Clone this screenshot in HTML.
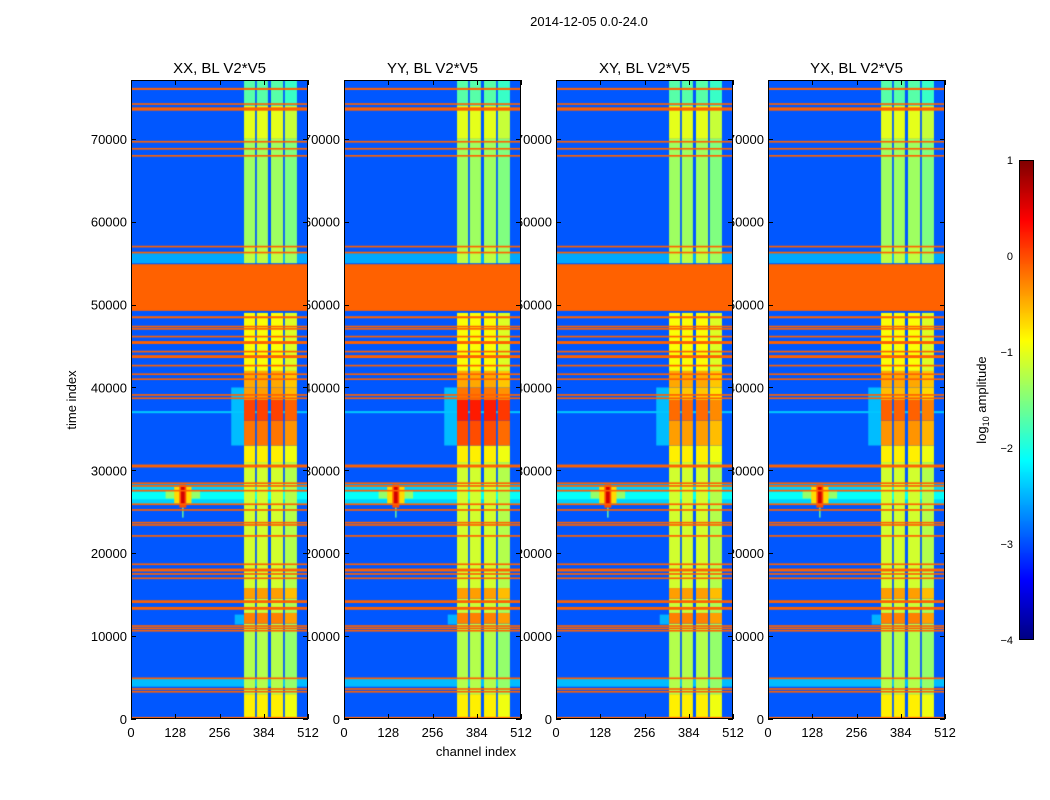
<!DOCTYPE html>
<html><head><meta charset="utf-8">
<style>
body{margin:0;background:#fff;width:1050px;height:800px;overflow:hidden;position:relative;font-family:"Liberation Sans",sans-serif}
svg{position:absolute;left:0;top:0}
canvas{position:absolute}
</style></head><body>
<svg id="txt" width="1050" height="800"></svg>
<canvas id="cb" width="15" height="480" style="left:1019px;top:160px"></canvas>
<svg id="frameLayer" width="1050" height="800"></svg>
<script>
// ---- data ----
const panelTitles = ["XX, BL V2*V5","YY, BL V2*V5","XY, BL V2*V5","YX, BL V2*V5"];
const xTicks = [0,128,256,384,512];
const yTicks = [0,10000,20000,30000,40000,50000,60000,70000];
const cbTicks = [1,0,-1,-2,-3,-4];
const backgroundLevel = -2.95;
const flagValue = -0.1;
// flagged time ranges (orange rows)
const flagRows = [[75900,76150],[74100,74300],[73400,73800],[69550,69750],[68700,68900],[67850,68050],
 [56900,57100],[56180,56380],[49240,54870],[48350,48600],[47250,47450],[46970,47170],[46040,46240],
 [45250,45600],[44230,44430],[43550,43900],[42540,42740],[41500,41700],[40900,41100],[39000,39200],[38600,38800],
 [30350,30700],[28350,28550],[28020,28220],[27450,27650],[25810,26010],[25120,25320],[23590,23790],[23310,23510],
 [21990,22190],[18570,18770],[17800,18150],[17400,17600],[16880,17080],[14000,14330],[13180,13520],
 [11120,11320],[10840,11040],[10550,10750],[4810,5010],[3520,3720],[3190,3390],[0,250]];
// background-wide bands [c0,c1,t0,t1,value]
const bands = [[0,512,25900,28300,-2.35],[0,512,26500,27400,-2.1],[0,512,3900,4900,-2.45],[0,512,55000,56200,-2.55],
 [290,327,33000,40000,-2.45],[300,327,11400,12600,-2.5],[0,512,36900,37150,-2.4]];
// signal strips (channel ranges)
const strips = [[327,359],[364,396],[405,440],[445,480]];
const stripOffset = [0,0,0,-0.15];
// strip level segments [t0,t1,value]
const stripLevels = [[0,3000,-0.8],[3000,11500,-1.25],[11500,12800,-0.25],[12800,14500,-1.15],[14500,15800,-0.4],
 [15800,31000,-1.1],[31000,33000,-0.8],[33000,36000,-0.3],[36000,38500,-0.05],[38500,40000,-0.5],
 [40000,42000,-0.45],[42000,49000,-0.9],[55000,57000,-1.2],[57000,70000,-1.35],[70000,74000,-1.0],[74000,77100,-1.7]];
// per-panel extra strip boost in the 33000-39000 range
const panelBoost = [0.1,0.3,-0.1,-0.05];
// narrow spikes [c0,c1,t0,t1,value]
const spikes = [[100,200,26600,27500,-1.4],[125,175,26000,28000,-0.7],[140,160,25500,28300,0.0],[145,155,26000,28000,0.6],[148,152,24300,25500,-1.6]];

const W=177,H=639,tMax=77100,cMax=512;
const panelX=[131,344,556,768], panelY=80;
function jet(v){let x=(v+4)/5;x=Math.max(0,Math.min(1,x));
 const c=f=>Math.round(255*Math.max(0,Math.min(1,f)));
 return [c(1.5-Math.abs(4*x-3)),c(1.5-Math.abs(4*x-2)),c(1.5-Math.abs(4*x-1))];}
const xs=c=>c/cMax*W, ys=t=>H-t/tMax*H;
function fill(ctx,c0,c1,t0,t1,v){const [r,g,b]=jet(v);ctx.fillStyle=`rgb(${r},${g},${b})`;
 const x0=xs(c0),x1=xs(c1),y0=ys(t1),y1=ys(t0);ctx.fillRect(x0,y0,Math.max(1,x1-x0),Math.max(1,y1-y0));}

const ns="http://www.w3.org/2000/svg";
const txtLayer=document.getElementById('txt'), frameLayer=document.getElementById('frameLayer');
function T(parent,x,y,s,size,anchor,name){const e=document.createElementNS(ns,'text');
 e.setAttribute('x',x);e.setAttribute('y',y);e.setAttribute('font-size',size);e.setAttribute('text-anchor',anchor);
 e.setAttribute('font-family','Liberation Sans, sans-serif');e.textContent=s;
 
 
 parent.appendChild(e);return e;}
function L(x1,y1,x2,y2,name){const l=document.createElementNS(ns,'line');
 l.setAttribute('x1',x1);l.setAttribute('y1',y1);l.setAttribute('x2',x2);l.setAttribute('y2',y2);
 l.setAttribute('stroke','#000');l.setAttribute('stroke-width','1');
 
 
 frameLayer.appendChild(l);}

T(txtLayer,589,26,"2014-12-05 0.0-24.0",13,'middle','suptitle');
T(txtLayer,476,756,"channel index",13,'middle','x-axis-title');
const yl=T(txtLayer,76,400,"time index",13,'middle','y-axis-title');yl.setAttribute('transform','rotate(-90 76 400)');

panelTitles.forEach((title,p)=>{
 const px=panelX[p];
 T(txtLayer,px+W/2,73,title,15,'middle','panel-title-'+p);
 yTicks.forEach(t=>T(txtLayer,px-4,panelY+ys(t)+5,String(t),13,'end','y-tick-label'));
 xTicks.forEach(c=>T(txtLayer,px+xs(c),737,String(c),13,'middle','x-tick-label'));
 const cv=document.createElement('canvas');cv.width=W;cv.height=H;
 cv.style.left=px+'px';cv.style.top=panelY+'px';
 
 
 document.body.insertBefore(cv,frameLayer);
 const ctx=cv.getContext('2d');
 fill(ctx,0,cMax,0,tMax,backgroundLevel);
 bands.forEach(b=>fill(ctx,b[0],b[1],b[2],b[3],b[4]));
 strips.forEach((s,i)=>stripLevels.forEach(l=>{
   let v=l[2]+stripOffset[i];
   if(l[0]>=33000&&l[1]<=40000)v+=panelBoost[p];
   fill(ctx,s[0],s[1],l[0],l[1],v);}));
 spikes.forEach(s=>fill(ctx,s[0],s[1],s[2],s[3],s[4]));
 flagRows.forEach(f=>fill(ctx,0,cMax,f[0],f[1],flagValue));
 const r=document.createElementNS(ns,'rect');r.setAttribute('x',px+0.5);r.setAttribute('y',panelY+0.5);
 r.setAttribute('width',W-1);r.setAttribute('height',H-1);r.setAttribute('fill','none');r.setAttribute('stroke','#000');
 
 
 frameLayer.appendChild(r);
 yTicks.forEach(t=>{const y=Math.round(panelY+ys(t))+0.5;L(px,y,px+5,y,'y-tick');L(px+W-5,y,px+W,y,'y-tick');});
 xTicks.forEach(c=>{const x=Math.round(px+xs(c))+0.5;L(x,panelY+H,x,panelY+H-5,'x-tick');L(x,panelY,x,panelY+5,'x-tick');});
});
// colorbar
const cb=document.getElementById('cb').getContext('2d');
for(let y=0;y<480;y++){const [r,g,b]=jet(1-y/480*5);cb.fillStyle=`rgb(${r},${g},${b})`;cb.fillRect(0,y,15,1);}
const cr=document.createElementNS(ns,'rect');cr.setAttribute('x',1019.5);cr.setAttribute('y',160.5);
cr.setAttribute('width',14);cr.setAttribute('height',479);cr.setAttribute('fill','none');cr.setAttribute('stroke','#000');


frameLayer.appendChild(cr);
cbTicks.forEach(v=>T(txtLayer,1013,160+(1-v)/5*480+4,String(v).replace('-','\u2212'),11,'end','colorbar-tick-label'));
const cl=T(txtLayer,986,400,"",13,'middle','colorbar-title');cl.setAttribute('transform','rotate(-90 986 400)');
cl.innerHTML='log<tspan font-size="9" dy="3">10</tspan><tspan dy="-3"> amplitude</tspan>';
</script>
</body></html>
